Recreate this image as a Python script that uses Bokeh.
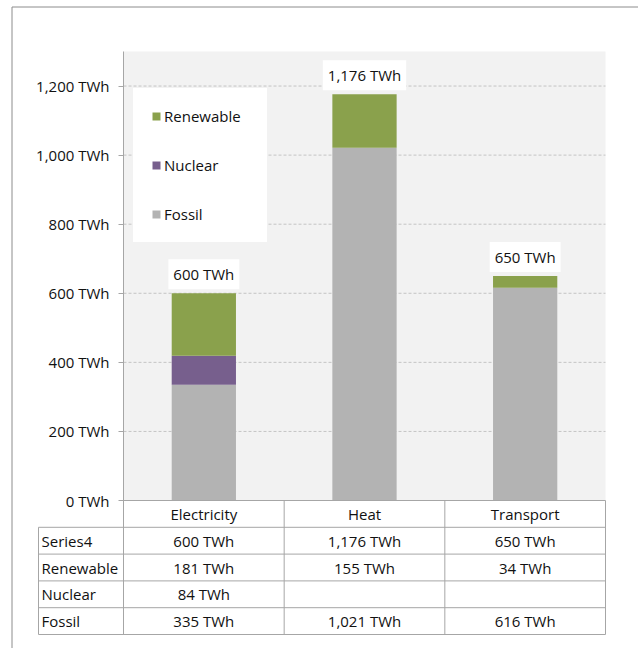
from bokeh.plotting import figure
from bokeh.models import (Range1d, LinearAxis, FixedTicker, CustomJSTickFormatter,
                          ColumnDataSource, Legend, LegendItem)
from bokeh.core.properties import value
from bokeh.embed import file_html
from bokeh.resources import INLINE

# ---------------- data ----------------
categories = ["Electricity", "Heat", "Transport"]
fossil = [335, 1021, 616]
nuclear = [84, 0, 0]
renewable = [181, 155, 34]
totals = [600, 1176, 650]
table_row_names = ["Series4", "Renewable", "Nuclear", "Fossil"]
y_ticks = [0, 200, 400, 600, 800, 1000, 1200]
y_max = 1300

# ---------------- styles ----------------
FONT = "Open Sans"
FS = "15px"
C_FOSSIL = "#b3b3b3"
C_NUCLEAR = "#775f8d"
C_RENEW = "#8aa14c"
C_TABLE = "#a6a6a6"
C_TEXT = "#111111"

# ---------------- layout (pixels) ----------------
W, H = 638, 648
PL, PR, PT, PB = 123, 605, 51, 500
ROW_H = 26.8
LABEL_COL_LEFT = 38
n = len(categories)
cw = (PR - PL) / n
ky = (PB - PT) / y_max


def xd(px):
    return (px - PL) / cw


def yd(py):
    return (PB - py) / ky


def rd(py):
    return (py - PB) / ROW_H


p = figure(width=W, height=H, output_backend="svg", toolbar_location=None, tools="",
           x_range=Range1d(xd(0), xd(W)), y_range=Range1d(yd(H), yd(0)),
           x_axis_location=None, y_axis_location=None, min_border=0)
p.extra_y_ranges = {"tbl": Range1d(start=rd(H), end=rd(0))}
p.outline_line_color = None
p.background_fill_color = "white"
p.border_fill_color = "white"
p.grid.visible = False

# outer chart border
p.quad(left=xd(11.5), right=xd(W + 20), top=yd(6.5), bottom=yd(H + 20),
       fill_color=None, line_color="#8c8c8c", line_width=1)

# plot area background
p.quad(left=0, right=n, bottom=0, top=y_max, fill_color="#f2f2f2", line_color=None)

# gridlines
g = y_ticks[1:]
p.segment(x0=[0] * len(g), x1=[n] * len(g), y0=g, y1=g,
          line_color="#c4c4c4", line_dash="3 2", line_width=1)

# stacked bars
src = ColumnDataSource(dict(
    x=[i + 0.5 for i in range(n)],
    Fossil=fossil, Nuclear=nuclear, Renewable=renewable,
    total=totals, total_label=[f"{t:,} TWh" for t in totals],
))
rs = p.vbar_stack(["Fossil", "Nuclear", "Renewable"], x="x", width=0.4,
                  fill_color=[C_FOSSIL, C_NUCLEAR, C_RENEW], line_color=None, source=src)

# total labels
p.text(x="x", y="total", text="total_label", source=src,
       text_align="center", text_baseline="middle", y_offset=-19,
       text_font=value(FONT), text_font_size=FS, text_color=C_TEXT,
       background_fill_color="white", padding=5)

# y axis
yaxis = LinearAxis(fixed_location=0, bounds=(yd(PB + 5 * ROW_H), y_max),
                   ticker=FixedTicker(ticks=y_ticks),
                   formatter=CustomJSTickFormatter(code="return tick.toLocaleString('en-US') + ' TWh';"),
                   axis_line_color=C_TABLE, major_tick_line_color=C_TABLE,
                   major_tick_out=5, major_tick_in=0, minor_tick_out=0, minor_tick_in=0,
                   major_label_standoff=9,
                   major_label_text_font=FONT, major_label_text_font_size=FS,
                   major_label_text_color=C_TEXT)
p.add_layout(yaxis, "left")

# ---------------- data table ----------------
row_values = [totals, renewable, nuclear, fossil]
tx, ty, tt = [], [], []
for r, vals in enumerate(row_values):
    for c, v in enumerate(vals):
        tx.append(c + 0.5)
        ty.append(r + 1.5)
        tt.append(f"{v:,} TWh" if v else "")
p.text(x=tx, y=ty, text=tt, y_range_name="tbl", text_align="center", text_baseline="middle",
       text_font=value(FONT), text_font_size=FS, text_color=C_TEXT)
# header
p.text(x=[c + 0.5 for c in range(n)], y=[0.5] * n, text=categories, y_range_name="tbl",
       text_align="center", text_baseline="middle",
       text_font=value(FONT), text_font_size=FS, text_color=C_TEXT)
# row labels
p.text(x=[xd(LABEL_COL_LEFT)] * len(table_row_names),
       y=[r + 1.5 for r in range(len(table_row_names))], text=table_row_names,
       y_range_name="tbl", x_offset=3, text_align="left", text_baseline="middle",
       text_font=value(FONT), text_font_size=FS, text_color=C_TEXT)

# table lines
nrows = len(table_row_names) + 1
hx0 = [0] + [xd(LABEL_COL_LEFT)] * (nrows)
hy = list(range(0, nrows + 1))
p.segment(x0=hx0, x1=[n] * len(hx0), y0=hy, y1=hy, y_range_name="tbl",
          line_color=C_TABLE, line_width=1)
vx = list(range(1, n + 1)) + [xd(LABEL_COL_LEFT)]
vy0 = [0] * n + [1]
p.segment(x0=vx, x1=vx, y0=vy0, y1=[nrows] * len(vx), y_range_name="tbl",
          line_color=C_TABLE, line_width=1)

# legend (white border acts as inner padding)
legend = Legend(items=[LegendItem(label="Renewable", renderers=[rs[2]]),
                       LegendItem(label="Nuclear", renderers=[rs[1]]),
                       LegendItem(label="Fossil", renderers=[rs[0]])],
                location=(133, H - 242), orientation="vertical",
                background_fill_color="white", background_fill_alpha=1,
                border_line_color="white", border_line_width=18,
                padding=0, spacing=29, margin=0,
                glyph_width=10, glyph_height=10, label_height=20, label_width=85,
                label_standoff=3,
                label_text_font=FONT, label_text_font_size=FS, label_text_color=C_TEXT)
p.add_layout(legend)

open("out.html", "w").write(file_html(p, INLINE))
